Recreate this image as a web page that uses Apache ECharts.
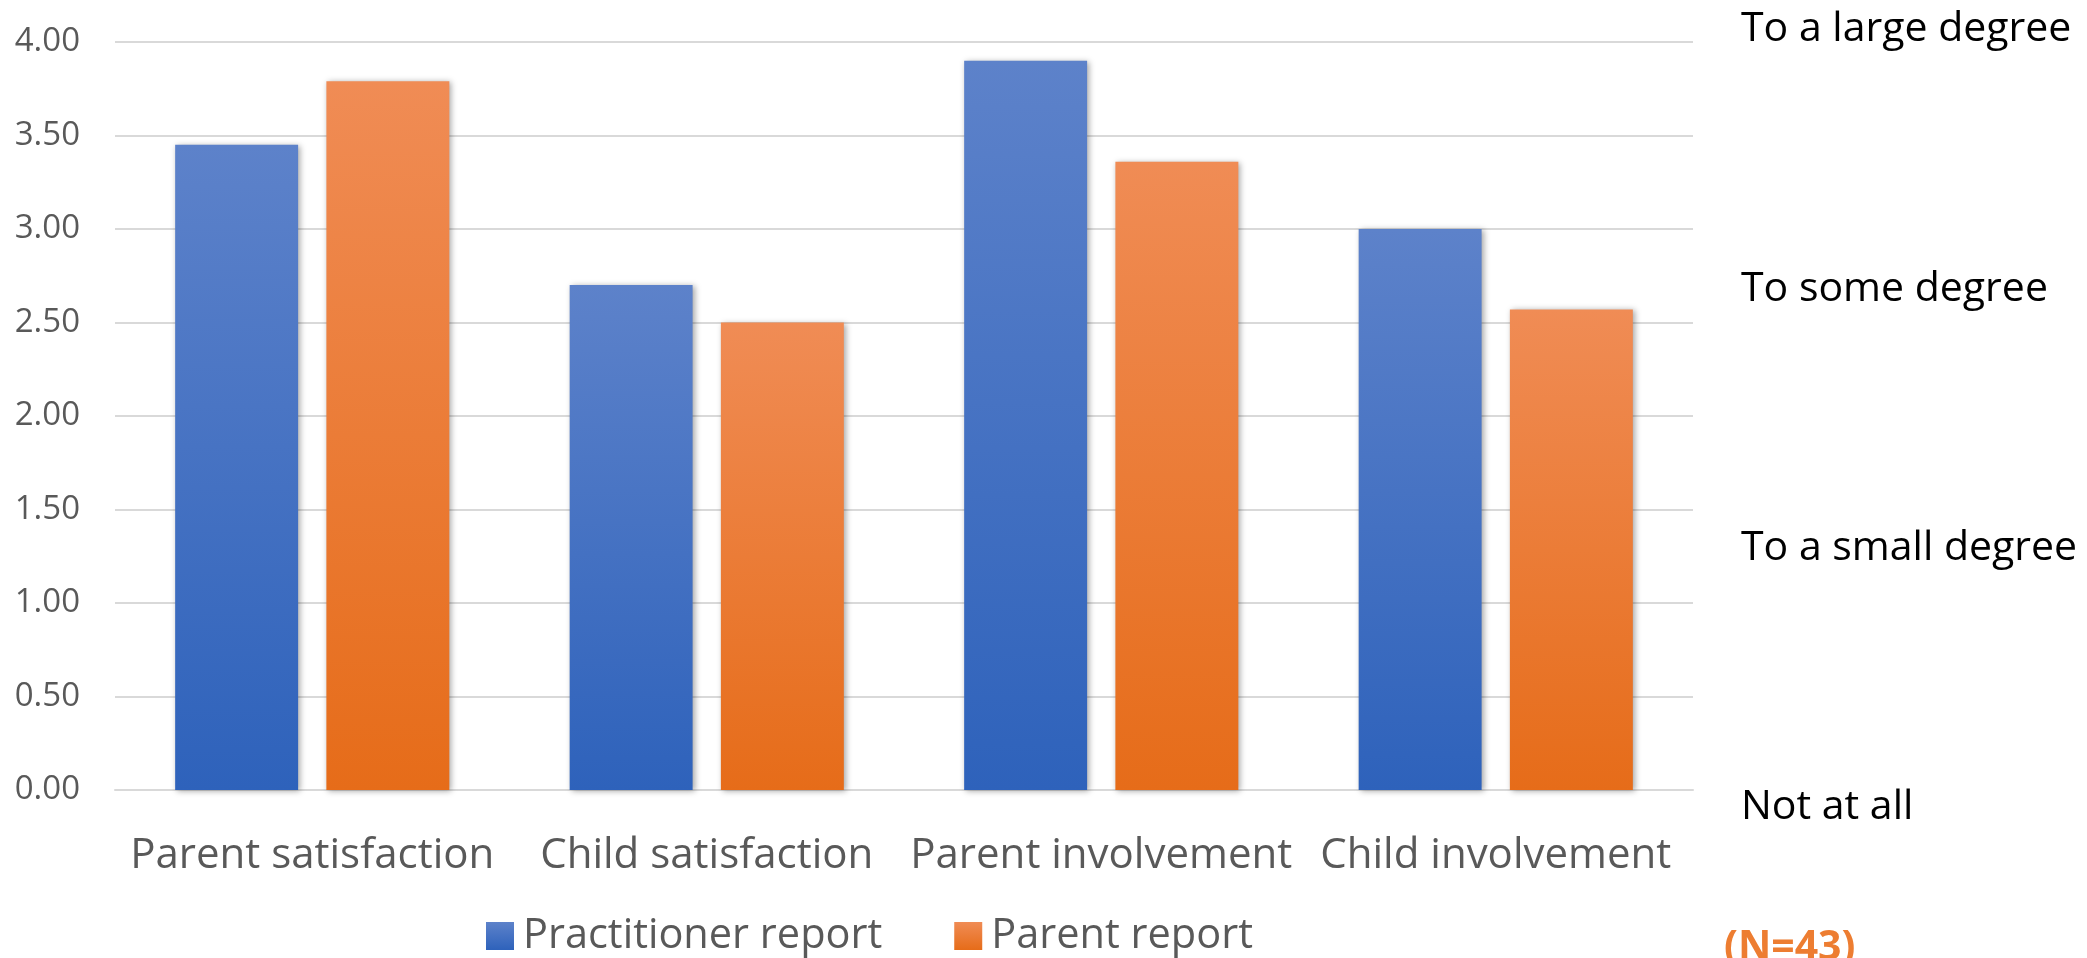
<!DOCTYPE html>
<html>
<head>
<meta charset="utf-8">
<script src="https://cdn.jsdelivr.net/npm/echarts@6/dist/echarts.min.js"></script>
<style>
  html, body { margin: 0; padding: 0; background: #fff; }
  #chart { width: 2087px; height: 958px; }
</style>
</head>
<body>
<div id="chart"></div>
<script>
const categories = ['Parent satisfaction', 'Child satisfaction', 'Parent involvement', 'Child involvement']
const practitionerReport = [3.45, 2.70, 3.90, 3.00]
const parentReport = [3.79, 2.50, 3.36, 2.57]
const degreeLabels = ['To a large degree', 'To some degree', 'To a small degree', 'Not at all']
const degreeY = [39, 299, 558, 817]
const noteText = '(N=43)'

const FONT = '"Open Sans", "Noto Sans", sans-serif'

const blueFill = new echarts.graphic.LinearGradient(0, 0, 0, 1, [
  { offset: 0, color: '#5d82ca' },
  { offset: 1, color: '#2e62bb' },
])
const orangeFill = new echarts.graphic.LinearGradient(0, 0, 0, 1, [
  { offset: 0, color: '#f08c55' },
  { offset: 1, color: '#e66c19' },
])

const barShadow = {
  shadowBlur: 6,
  shadowColor: 'rgba(0,0,0,0.35)',
  shadowOffsetX: 2,
  shadowOffsetY: 1,
}

const chart = echarts.init(document.getElementById('chart'))
chart.setOption({
  animation: false,
  grid: { left: 115, right: 394, top: 42, bottom: 168 },
  legend: {
    left: 481,
    top: 910,
    itemWidth: 28,
    itemHeight: 28,
    itemGap: 72,
    icon: 'rect',
    textStyle: { color: '#595959', fontSize: 41.5, fontFamily: FONT, padding: [0, 0, 0, 4] },
    data: ['Practitioner report', 'Parent report'],
  },
  xAxis: {
    type: 'category',
    data: categories,
    axisTick: { show: false },
    axisLine: { lineStyle: { color: '#d9d9d9', width: 2 } },
    axisLabel: { color: '#595959', fontSize: 42, fontFamily: FONT, margin: 45, interval: 0 },
  },
  yAxis: {
    type: 'value',
    min: 0,
    max: 4,
    interval: 0.5,
    axisLabel: {
      color: '#595959',
      fontSize: 33,
      fontFamily: FONT,
      margin: 35,
      formatter: (v) => v.toFixed(2),
    },
    splitLine: { lineStyle: { color: '#d9d9d9', width: 2 } },
  },
  graphic: [
    ...degreeLabels.map((t, i) => ({
      type: 'text',
      left: 1741,
      top: degreeY[i] - 30,
      style: { text: t, fill: '#000', fontSize: 41, fontFamily: FONT },
    })),
    {
      type: 'text',
      left: 1724,
      top: 928,
      style: { text: noteText, fill: '#ed7d31', fontSize: 41, fontWeight: 'bold', fontFamily: FONT },
    },
  ],
  series: [
    {
      name: 'Practitioner report',
      type: 'bar',
      data: practitionerReport,
      barGap: '23%',
      barCategoryGap: '30.5%',
      itemStyle: { color: blueFill, ...barShadow },
    },
    {
      name: 'Parent report',
      type: 'bar',
      data: parentReport,
      itemStyle: { color: orangeFill, ...barShadow },
    },
  ],
})
</script>
</body>
</html>
